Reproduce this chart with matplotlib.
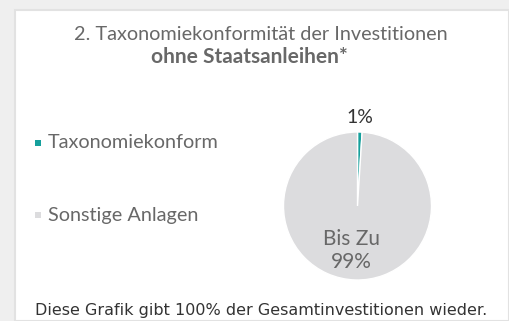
import matplotlib
matplotlib.use("Agg")
import matplotlib.pyplot as plt
from matplotlib.patches import Rectangle
import numpy as np

W, H = 509, 321

labels = ["Taxonomiekonform", "Sonstige Anlagen"]
values = [1, 99]
colors = ["#16a09c", "#dcdcde"]
title_lines = ["2. Taxonomiekonformität der Investitionen", "ohne Staatsanleihen*"]
footnote = "Diese Grafik gibt 100% der Gesamtinvestitionen wieder."

TXT = "#686868"
LIGHT = dict(family=["Lato", "DejaVu Sans"], weight="normal")


def px(x, y):
    # pixel coords (top-left origin) -> figure fraction
    return x / W, 1 - y / H


fig = plt.figure(figsize=(W / 100, H / 100), dpi=100)
fig.patch.set_facecolor("#efefef")

# white card behind everything
x0, y0 = px(15, 321)
card = Rectangle((x0, y0), 1 - x0, 1 - 10 / H - y0, transform=fig.transFigure,
                 facecolor="white", edgecolor="#e2e2e2", linewidth=1.5, zorder=-10)
fig.patches.append(card)

fig.text(*px(261, 35), title_lines[0], ha="center", va="center",
         fontsize=14.3, color=TXT, **LIGHT)
fig.text(*px(249, 57), title_lines[1], ha="center", va="center",
         fontsize=15, color=TXT, family=["Lato", "DejaVu Sans"], weight="bold")

# legend
for i, (lab, col) in enumerate(zip(labels, colors)):
    y = 143 + i * 72
    fig.patches.append(Rectangle(px(35, y + 3), 6 / W, 6 / H, transform=fig.transFigure,
                                 facecolor=col, edgecolor="none"))
    fig.text(*px(48, y), lab, ha="left", va="center", fontsize=14.3, color=TXT, **LIGHT)

# pie
cx, cy, r = 357.5, 206, 74
ax = fig.add_axes([(cx - r) / W, (H - cy - r) / H, 2 * r / W, 2 * r / H])
wedges, _ = ax.pie(values, colors=colors, startangle=90, counterclock=False,
                   wedgeprops=dict(edgecolor="white", linewidth=1.0))
ax.set_xlim(-1, 1)
ax.set_ylim(-1, 1)
ax.set_aspect("auto")
ax.axis("off")

ang = np.deg2rad((wedges[0].theta1 + wedges[0].theta2) / 2)
ax.text(1.19 * np.cos(ang), 1.19 * np.sin(ang), f"{values[0]}%", ha="center", va="center",
        fontsize=14, color="#333333", clip_on=False, **LIGHT)
ax.text(-0.08, -0.6, f"Bis Zu\n{values[1]}%", ha="center", va="center",
        fontsize=15, color=TXT, linespacing=1.15, **LIGHT)

fig.text(*px(261, 310), footnote, ha="center", va="center",
         fontsize=11.5, color="#333333", family="DejaVu Sans")

fig.savefig("out.png", dpi=100, facecolor=fig.get_facecolor())
